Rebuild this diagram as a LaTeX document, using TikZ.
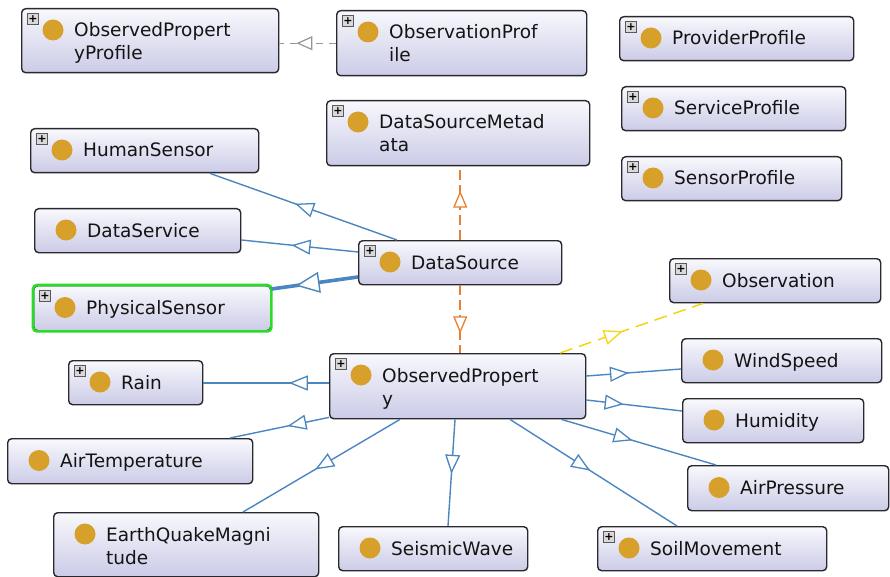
\documentclass[tikz,border=0pt]{standalone}
\usepackage{fontspec}
\setmainfont{DejaVu Sans}
\usetikzlibrary{arrows.meta,decorations.markings,calc}

\definecolor{dotc}{RGB}{214,160,42}
\definecolor{edgeblue}{RGB}{74,134,192}
\definecolor{edgeorange}{RGB}{232,128,48}
\definecolor{edgeyellow}{RGB}{246,212,20}
\definecolor{edgegray}{RGB}{150,150,150}
\definecolor{boxtop}{RGB}{248,248,253}
\definecolor{boxbot}{RGB}{203,203,231}
\definecolor{boxline}{RGB}{40,40,46}
\definecolor{selgreen}{RGB}{40,220,40}

\tikzset{
  cbox/.style={draw=boxline, line width=1.4pt, rounded corners=4pt,
    top color=boxtop, bottom color=boxbot, inner sep=0pt},
  ctext/.style={anchor=base west, font=\fontsize{18.5}{23}\selectfont,
    inner sep=0pt, text=black!92},
  cdot/.style={circle, fill=dotc, minimum size=21pt, inner sep=0pt},
  cplus/.style={draw=black!65, fill=black!15, line width=0.6pt, minimum size=11pt,
    inner sep=0pt, font=\fontsize{11}{11}\selectfont\bfseries},
  tipat/.style 2 args={postaction={decorate, decoration={markings,
    mark=at position #1 with {\arrow{#2}}}}},
  isa/.style={draw=edgeblue, line width=1.4pt},
  thickisa/.style={draw=edgeblue, line width=3.6pt},
  orangedash/.style={draw=edgeorange, line width=1.5pt, dash pattern=on 10pt off 5pt},
  yellowdash/.style={draw=edgeyellow, line width=1.5pt, dash pattern=on 13pt off 7pt},
  graydash/.style={draw=edgegray, line width=1.3pt, dash pattern=on 7pt off 6pt},
}

\newcommand{\classbox}[7]{%
  \node[cbox, minimum width=#4pt, minimum height=#5pt, anchor=north west] (#1) at (#2,#3) {};
  \node[cdot] (#1-dot) at ($(#1.north west)+(32,#7)$) {};
  \node[ctext] (#1-text) at ($(#1.north west)+(53,#7+7)$)
    {\begin{tabular}[t]{@{}l@{}}#6\end{tabular}};
}
\newcommand{\plusicon}[1]{%
  \node[cplus] (#1-plus) at ($(#1.north west)+(12,11)$) {+};
}

\begin{document}
\begin{tikzpicture}[x=1pt,y=-1pt]
\fill[white] (0,0) rectangle (890,577);
\useasboundingbox (0,0) rectangle (890,577);

% classes
\classbox{OPP}{21}{8}{257}{64}{ObservedPropert\\yProfile}{22}\plusicon{OPP}
\classbox{OProf}{336}{10}{250}{65}{ObservationProf\\ile}{22}\plusicon{OProf}
\classbox{ProvP}{619}{16}{234}{44}{ProviderProfile}{22}\plusicon{ProvP}
\classbox{ServP}{621}{86}{224}{44}{ServiceProfile}{22}\plusicon{ServP}
\classbox{SensP}{621}{156}{220}{44}{SensorProfile}{22}\plusicon{SensP}
\classbox{DSM}{326}{100}{263}{65}{DataSourceMetad\\ata}{22}\plusicon{DSM}
\classbox{HS}{30}{128}{228}{44}{HumanSensor}{22}\plusicon{HS}
\classbox{DSv}{34}{208}{206}{44}{DataService}{22}
\classbox{DS}{358}{240}{203}{44}{DataSource}{22}\plusicon{DS}
\classbox{PS}{33}{285}{237}{45}{PhysicalSensor}{22.5}
\draw[selgreen, line width=2.6pt, rounded corners=4pt] (PS.north west) rectangle (PS.south east);
\plusicon{PS}
\classbox{Obs}{669}{258}{211}{44}{Observation}{22}\plusicon{Obs}
\classbox{OP}{329}{353}{256}{65}{ObservedPropert\\y}{22}\plusicon{OP}
\classbox{Rain}{68}{360}{134}{44}{Rain}{22}\plusicon{Rain}
\classbox{WS}{681}{338}{200}{44}{WindSpeed}{22}
\classbox{Hum}{682}{398}{181}{44}{Humidity}{22}
\classbox{AT}{7}{438}{245}{45}{AirTemperature}{22.5}
\classbox{AP}{687}{465}{201}{45}{AirPressure}{22.5}
\classbox{EQM}{53}{512}{265}{64}{EarthQuakeMagni\\tude}{22}
\classbox{SW}{338}{526}{189}{44}{SeismicWave}{22}
\classbox{SM}{597}{526}{229}{44}{SoilMovement}{22}\plusicon{SM}

% connectors
\path[graydash, tipat={0.7}{Triangle[length=16pt,width=14pt,fill=white,line width=1.2pt]}]
  (OProf.west) -- (OPP.east |- OProf.west);

\path[orangedash, tipat={0.67}{Triangle[length=17pt,width=14pt,fill=white,line width=1.3pt]}]
  (DS.north) -- (DS.north |- DSM.south);
\path[orangedash, tipat={0.71}{Triangle[length=17pt,width=14pt,fill=white,line width=1.3pt]}]
  (DS.south) -- (DS.south |- OP.north);

\path[isa, tipat={0.545}{Triangle[length=19pt,width=15pt,fill=white,line width=1.3pt]}]
  ($(DS.north west)+(39,0)$) -- ($(HS.south west)+(180,0)$);
\path[isa, tipat={0.57}{Triangle[length=19pt,width=15pt,fill=white,line width=1.3pt]}]
  ($(DS.north west)+(0,12)$) -- ($(DSv.north east)+(0,32)$);
\path[thickisa, tipat={0.72}{Triangle[length=24pt,width=21pt,fill=white,line width=1.4pt]}]
  ($(DS.north west)+(0,37)$) -- ($(PS.north east)+(0,4)$);

\path[yellowdash, tipat={0.44}{Triangle[length=19pt,width=15pt,fill=white,line width=1.3pt]}]
  ($(OP.north west)+(231,0)$) -- ($(Obs.south west)+(34,0)$);

\path[isa, tipat={0.45}{Triangle[length=19pt,width=15pt,fill=white,line width=1.3pt]}]
  ($(OP.north east)+(0,23)$) -- ($(WS.north west)+(0,31)$);
\path[isa, tipat={0.39}{Triangle[length=19pt,width=15pt,fill=white,line width=1.3pt]}]
  ($(OP.north east)+(0,47)$) -- ($(Hum.north west)+(0,13)$);
\path[isa, tipat={0.46}{Triangle[length=19pt,width=15pt,fill=white,line width=1.3pt]}]
  ($(OP.south east)+(-25,0)$) -- ($(AP.north west)+(29,0)$);
\path[isa, tipat={0.48}{Triangle[length=19pt,width=15pt,fill=white,line width=1.3pt]}]
  ($(OP.south west)+(181,0)$) -- ($(SM.north west)+(80,0)$);
\path[isa, tipat={0.51}{Triangle[length=19pt,width=15pt,fill=white,line width=1.3pt]}]
  ($(OP.south west)+(126,0)$) -- ($(SW.north west)+(110,0)$);
\path[isa, tipat={0.54}{Triangle[length=19pt,width=15pt,fill=white,line width=1.3pt]}]
  ($(OP.south west)+(71,0)$) -- ($(EQM.north west)+(190,0)$);
\path[isa, tipat={0.42}{Triangle[length=19pt,width=15pt,fill=white,line width=1.3pt]}]
  ($(OP.south west)+(0,-2)$) -- ($(AT.north west)+(223,0)$);
\path[isa, tipat={0.32}{Triangle[length=19pt,width=15pt,fill=white,line width=1.3pt]}]
  ($(OP.north west)+(0,30)$) -- ($(Rain.north east)+(0,23)$);
\end{tikzpicture}
\end{document}
